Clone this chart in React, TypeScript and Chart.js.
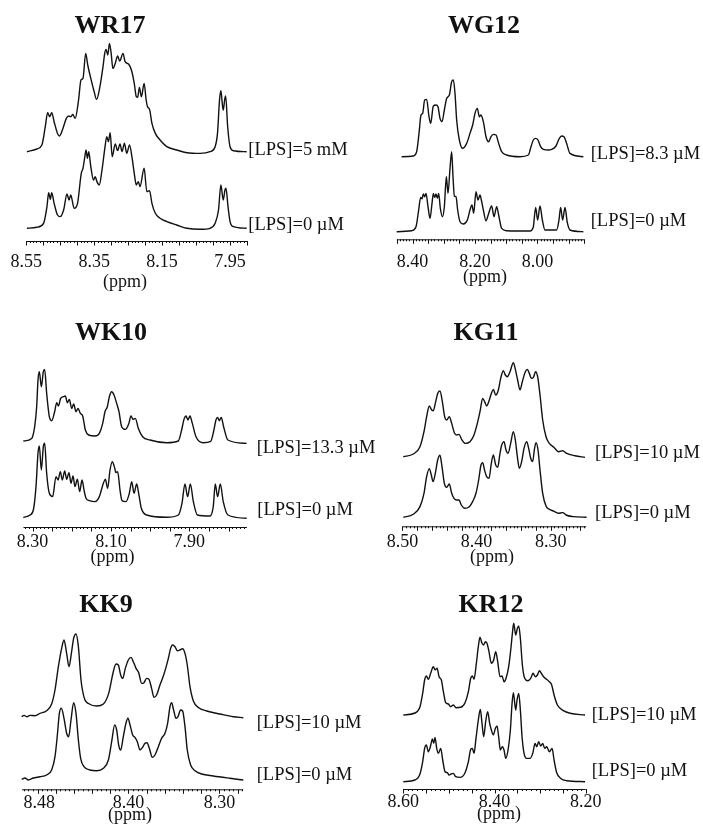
import React, { useEffect, useRef } from 'react';
import { Chart, registerables } from 'chart.js';

Chart.register(...registerables);

type Pt = [number, number]; // [chemical shift (ppm), intensity]

// ---------------- DATA ----------------
// WR17
const wr17Lps0: Pt[] = [
  [8.548, 0], [8.519, 1], [8.499, 5], [8.489, 21.7], [8.484, 35.7], [8.479, 29], [8.475, 35.7], [8.468, 25],
  [8.458, 13.3], [8.45, 11.7], [8.44, 18.3], [8.43, 34.3], [8.424, 28.3], [8.419, 33.3], [8.409, 20], [8.399, 25],
  [8.388, 55], [8.383, 60], [8.376, 75], [8.374, 78.3], [8.37, 70], [8.366, 76.7], [8.36, 61.7], [8.352, 48.3],
  [8.347, 51.7], [8.342, 46.7], [8.335, 43.3], [8.327, 58.3], [8.318, 81.7], [8.313, 91.7], [8.308, 86.7],
  [8.303, 95.7], [8.297, 71.7], [8.288, 84.3], [8.281, 77.7], [8.274, 84.3], [8.268, 76.7], [8.261, 85],
  [8.254, 75], [8.246, 83.3], [8.239, 71.7], [8.232, 55], [8.226, 43.3], [8.22, 46.7], [8.215, 41.7],
  [8.203, 60], [8.195, 36.7], [8.187, 37.7], [8.18, 25], [8.17, 15], [8.156, 10], [8.136, 6.7], [8.107, 3.3],
  [8.077, 0], [8.038, -1], [8.009, 0], [7.994, 5], [7.984, 18.3], [7.977, 43.3], [7.972, 31.7], [7.97, 28.3],
  [7.965, 38.3], [7.962, 40], [7.956, 21.7], [7.95, 6.7], [7.94, 1.7], [7.901, 0],
];
const wr17Lps5mM: Pt[] = [
  [8.548, 0], [8.519, 2.7], [8.504, 6.7], [8.494, 25], [8.487, 39], [8.481, 35], [8.475, 39], [8.468, 30],
  [8.458, 18.3], [8.452, 15.7], [8.442, 23.3], [8.432, 33.3], [8.425, 35.7], [8.419, 35], [8.413, 37.3],
  [8.406, 33.3], [8.396, 51.7], [8.389, 71.7], [8.383, 73.3], [8.375, 98.3], [8.369, 86.7], [8.36, 73.3],
  [8.35, 60], [8.343, 52.3], [8.334, 63.3], [8.324, 85], [8.319, 98.3], [8.315, 102.3], [8.31, 96.7],
  [8.305, 108.3], [8.3, 98.3], [8.295, 83.3], [8.288, 88.3], [8.281, 95.7], [8.275, 90.7], [8.265, 98.3],
  [8.259, 90], [8.249, 87.7], [8.239, 80], [8.232, 68.3], [8.226, 55], [8.222, 54.3], [8.217, 64.3],
  [8.211, 55], [8.203, 68.3], [8.197, 51.7], [8.193, 45], [8.187, 42.3], [8.18, 28.3], [8.17, 18.3],
  [8.156, 11.7], [8.136, 5], [8.107, 1.7], [8.077, -1], [8.038, -1.7], [8.009, 0], [7.994, 5], [7.987, 18.3],
  [7.981, 51.7], [7.977, 61], [7.972, 45], [7.97, 41.7], [7.966, 51.7], [7.963, 55.7], [7.957, 25],
  [7.95, 5], [7.94, 1], [7.901, 0],
];
const wr17TickAt = [8.55, 8.35, 8.15, 7.95];
const wr17TickLabels = ['8.55', '8.35', '8.15', '7.95'];
const wr17Conditions = ['[LPS]=5 mM', '[LPS]=0 µM'];

// WG12
const wg12Lps0: Pt[] = [
  [8.4507, 0], [8.4027, 1], [8.3888, 5], [8.3803, 21.7], [8.3739, 34.3], [8.3696, 33], [8.3653, 37.7],
  [8.3611, 35], [8.3568, 38.3], [8.3504, 25], [8.344, 13.3], [8.3376, 28.3], [8.3333, 38.3], [8.3291, 34.3],
  [8.3248, 37.7], [8.3205, 33.3], [8.3163, 38.3], [8.3109, 23.3], [8.3045, 15], [8.2981, 25], [8.2917, 55],
  [8.2864, 38.3], [8.28, 63.3], [8.2747, 80], [8.2704, 55], [8.2661, 35.7], [8.2608, 35], [8.2555, 21.7],
  [8.248, 10], [8.2373, 7.7], [8.2245, 11.7], [8.216, 21.7], [8.2096, 26.7], [8.2043, 18.3], [8.1968, 40],
  [8.1904, 31.7], [8.184, 36.7], [8.1797, 31.7], [8.1733, 21.7], [8.1648, 11], [8.1563, 18.3],
  [8.1467, 25.7], [8.1392, 15], [8.1307, 25], [8.1243, 16.7], [8.1147, 3.3], [8.0987, 1], [8.024, 0.7],
  [8.0133, 5], [8.0059, 24.3], [7.9995, 11.7], [7.992, 25.7], [7.9845, 11.7], [7.976, 1.7], [7.9387, 1.7],
  [7.9312, 11.7], [7.9259, 24.3], [7.9195, 11.7], [7.912, 24.3], [7.9045, 9], [7.896, 1.7], [7.8533, 0],
];
const wg12Lps83uM: Pt[] = [
  [8.4347, 0], [8.3973, 0.7], [8.3867, 5], [8.3792, 23.3], [8.3728, 41.7], [8.3675, 43.3], [8.3611, 56.7],
  [8.3547, 57.3], [8.3472, 40], [8.3419, 33.3], [8.3333, 50.7], [8.3248, 51.7], [8.3184, 50], [8.312, 38.3],
  [8.3056, 35], [8.2981, 46.7], [8.2907, 58.3], [8.2821, 61.7], [8.2747, 75], [8.2693, 76.7], [8.264, 63.3],
  [8.2587, 36.7], [8.2501, 16.7], [8.2395, 8.3], [8.2267, 13.3], [8.216, 23.3], [8.2075, 31.7], [8.2, 43.3],
  [8.1925, 48.3], [8.1861, 40], [8.1808, 41.7], [8.1733, 35], [8.1648, 20], [8.1563, 15], [8.1488, 20],
  [8.1413, 22.3], [8.1328, 21.7], [8.1243, 13.3], [8.1147, 5], [8.0987, 1.7], [8.056, 0], [8.0293, 1.7],
  [8.0208, 10], [8.0133, 16.7], [8.0059, 18.3], [7.9984, 16.7], [7.9899, 10], [7.9813, 7.3], [7.9653, 6.7],
  [7.9547, 7.3], [7.9408, 10.7], [7.9301, 18.3], [7.9227, 20.7], [7.9152, 20], [7.9067, 13.3], [7.896, 3.3],
  [7.8533, 0],
];
const wg12TickAt = [8.4, 8.2, 8.0];
const wg12TickLabels = ['8.40', '8.20', '8.00'];
const wg12Conditions = ['[LPS]=8.3 µM', '[LPS]=0 µM'];

// WK10
const wk10Lps0: Pt[] = [
  [8.3234, 0.7], [8.3064, 3.3], [8.2979, 8.3], [8.2911, 31.7], [8.286, 65], [8.2826, 72.3], [8.2775, 48.3],
  [8.2724, 71.7], [8.269, 75], [8.2639, 45], [8.2571, 25], [8.2486, 21.7], [8.2401, 41.7], [8.2349, 38.3],
  [8.229, 46.7], [8.2239, 38.3], [8.2179, 47.3], [8.2128, 39], [8.2069, 45.7], [8.2018, 35], [8.1967, 42.3],
  [8.1916, 31.7], [8.1856, 39], [8.1797, 26.7], [8.1737, 38.3], [8.1686, 28.3], [8.1635, 20], [8.155, 17.7],
  [8.1406, 16.7], [8.1295, 21.7], [8.1193, 35], [8.1142, 39], [8.1083, 30], [8.1023, 48.3], [8.0964, 56.7],
  [8.0913, 51.7], [8.087, 45.7], [8.0828, 46.7], [8.0768, 28.3], [8.0717, 17.7], [8.0615, 16.7], [8.053, 25],
  [8.047, 36.7], [8.0411, 25], [8.0343, 34.3], [8.0292, 25], [8.0224, 10], [8.0088, 3.3], [7.9578, 1],
  [7.9281, 3.3], [7.9187, 15], [7.9111, 34.3], [7.9043, 21.7], [7.8974, 34.3], [7.8897, 16.7], [7.8795, 3.3],
  [7.8474, 2.3], [7.8389, 11.7], [7.8338, 34.3], [7.8278, 21.7], [7.821, 34.3], [7.8134, 16.7], [7.8015, 3.3],
  [7.7538, 0],
];
const wk10Lps133uM: Pt[] = [
  [8.3234, 0.7], [8.3021, 3.3], [8.2945, 15], [8.2894, 35], [8.286, 61.7], [8.2826, 70], [8.2775, 55],
  [8.2724, 70], [8.269, 72.3], [8.2639, 48.3], [8.2571, 25], [8.2511, 21], [8.2435, 30], [8.2384, 39],
  [8.2341, 35.7], [8.2282, 43.3], [8.2213, 45], [8.2162, 45.7], [8.2111, 39], [8.206, 42.3], [8.2001, 33.3],
  [8.195, 37.7], [8.189, 30], [8.1839, 33.3], [8.178, 28.3], [8.172, 25.7], [8.1652, 11.7], [8.1567, 6.7],
  [8.1406, 5.7], [8.1295, 8.3], [8.121, 18.3], [8.1151, 30], [8.1091, 35], [8.104, 45], [8.0981, 50],
  [8.0921, 46.7], [8.0853, 38.3], [8.0794, 30], [8.0726, 15], [8.0632, 12.3], [8.0547, 17.7], [8.0487, 25.7],
  [8.0436, 22.3], [8.0377, 23.3], [8.03, 13.3], [8.019, 5], [8.0003, 1.7], [7.9578, -1], [7.9281, 0.7],
  [7.9196, 11.7], [7.9136, 22.3], [7.9085, 25.7], [7.9034, 21.7], [7.8983, 25.7], [7.8923, 18.3], [7.883, 5],
  [7.8643, -1], [7.8456, 0.3], [7.8372, 11.7], [7.8321, 21.7], [7.8278, 24.3], [7.8236, 21], [7.8185, 24.3],
  [7.8125, 15], [7.8015, 1.7], [7.7538, -1.7],
];
const wk10TickAt = [8.3, 8.1, 7.9];
const wk10TickLabels = ['8.30', '8.10', '7.90'];
const wk10Conditions = ['[LPS]=13.3 µM', '[LPS]=0 µM'];

// KG11
const kg11Lps0: Pt[] = [
  [8.4989, 0], [8.4854, 3], [8.4764, 10.7], [8.471, 24], [8.4674, 40.7], [8.4638, 48.7], [8.4611, 42.3],
  [8.4588, 35.7], [8.4557, 44], [8.4525, 57.3], [8.4494, 62], [8.4467, 50.7], [8.4435, 34], [8.4404, 30],
  [8.4368, 33.3], [8.4336, 24], [8.4305, 19], [8.4269, 17.3], [8.4237, 17.3], [8.4206, 12.3], [8.4161, 9],
  [8.4107, 10], [8.4053, 15.7], [8.4008, 24], [8.3972, 37.3], [8.3941, 52.3], [8.3918, 54.7], [8.3891, 46.7],
  [8.3864, 40.7], [8.3832, 39], [8.3801, 54], [8.3774, 62.3], [8.3742, 52.3], [8.3715, 50], [8.3684, 64],
  [8.3661, 72.3], [8.363, 75.7], [8.3603, 67.3], [8.3576, 64], [8.354, 74], [8.3504, 85.7], [8.3477, 77.3],
  [8.345, 60.7], [8.3423, 49], [8.3392, 55.7], [8.336, 69], [8.3324, 75.7], [8.3297, 69], [8.327, 59],
  [8.3243, 55.7], [8.3221, 67.3], [8.3198, 74.7], [8.3171, 67.3], [8.3144, 47.3], [8.3108, 24], [8.3063, 11.3],
  [8.3018, 8], [8.2964, 6.3], [8.2897, 4], [8.2838, 4.7], [8.2793, 2.3], [8.2695, 0.7], [8.2515, 0],
];
const kg11Lps10uM: Pt[] = [
  [8.4989, 0], [8.4854, 2.7], [8.4764, 10], [8.471, 25], [8.4674, 40], [8.4638, 50.7], [8.4606, 46.7],
  [8.4584, 46], [8.4552, 55], [8.4525, 63.3], [8.4494, 65.7], [8.4462, 55], [8.4431, 40], [8.4404, 36.7],
  [8.4368, 40], [8.4336, 33.3], [8.43, 24], [8.4269, 21.7], [8.4237, 22.3], [8.4202, 17.3], [8.4152, 13.3],
  [8.4089, 15], [8.4035, 21.7], [8.399, 33.3], [8.3954, 45], [8.3918, 58.3], [8.3891, 55], [8.3864, 50.7],
  [8.3828, 56.7], [8.3801, 63.3], [8.3774, 67.3], [8.3742, 61.7], [8.3706, 66.7], [8.3675, 78.3], [8.3639, 86],
  [8.3612, 81.7], [8.3585, 80], [8.3549, 85], [8.3504, 94], [8.3477, 87.3], [8.3446, 76.7], [8.3414, 66.7],
  [8.3383, 75], [8.3347, 84], [8.3315, 87.3], [8.3288, 83.3], [8.3261, 78.3], [8.3234, 79.3], [8.3203, 85],
  [8.3176, 80], [8.3144, 61.7], [8.3108, 36.7], [8.3063, 20], [8.3018, 13.3], [8.2955, 9.3], [8.2892, 5],
  [8.2838, 6], [8.2784, 3.3], [8.2672, 1], [8.2537, -0.7],
];
const kg11TickAt = [8.5, 8.4, 8.3];
const kg11TickLabels = ['8.50', '8.40', '8.30'];
const kg11Conditions = ['[LPS]=10 µM', '[LPS]=0 µM'];

// KK9
const kk9Lps0: Pt[] = [
  [8.5174, 0.7], [8.5138, 2], [8.5101, 0], [8.5046, 2], [8.4973, 3.3], [8.49, 5], [8.4845, 10], [8.4808, 23.3],
  [8.4782, 45], [8.476, 66.7], [8.4738, 71.7], [8.4709, 61.7], [8.468, 46.7], [8.4658, 43.3], [8.4632, 60],
  [8.4603, 77.3], [8.4577, 66.7], [8.4551, 40], [8.4526, 21.7], [8.4489, 13.3], [8.4423, 10], [8.435, 9.3],
  [8.4276, 11.7], [8.4221, 20], [8.4185, 38.3], [8.4152, 55], [8.413, 50], [8.4108, 35], [8.4086, 30],
  [8.4057, 43.3], [8.4028, 56.7], [8.4006, 61.7], [8.3983, 55], [8.3954, 45], [8.3929, 42.7], [8.3903, 38.3],
  [8.3874, 30], [8.3845, 32.7], [8.3819, 36.7], [8.3797, 37.3], [8.3771, 31.7], [8.3738, 22.7], [8.3709, 25],
  [8.3672, 33.3], [8.3636, 41.7], [8.3599, 46.7], [8.357, 56.7], [8.3544, 73.3], [8.3526, 77.3], [8.3504, 70],
  [8.3478, 61.7], [8.3456, 63.3], [8.3427, 70], [8.3405, 69], [8.3379, 53.3], [8.3354, 30], [8.3317, 15],
  [8.3269, 9.3], [8.3196, 6], [8.3068, 4], [8.2885, 1.7], [8.2738, 0],
];
const kk9Lps10uM: Pt[] = [
  [8.5174, 0], [8.5148, 1.3], [8.5119, 0], [8.5083, 1.3], [8.5028, 1], [8.4973, 3.3], [8.49, 6], [8.4845, 12.7],
  [8.4808, 26.7], [8.4771, 50], [8.4735, 68.3], [8.4709, 76.7], [8.468, 63.3], [8.4654, 50], [8.4628, 63.3],
  [8.4603, 78.3], [8.4577, 82.7], [8.4551, 70], [8.4522, 36.7], [8.4485, 18.3], [8.443, 12.7], [8.435, 10.7],
  [8.4276, 12.7], [8.4218, 23.3], [8.4167, 45], [8.4137, 52.7], [8.4112, 51.7], [8.4086, 41.7], [8.4064, 38.3],
  [8.4035, 48.3], [8.4002, 56.7], [8.3972, 59.3], [8.3947, 55], [8.3917, 48.3], [8.3888, 44], [8.3855, 33.3],
  [8.383, 34], [8.3801, 38.3], [8.3775, 37.3], [8.3746, 28.3], [8.372, 19.3], [8.3691, 21.7], [8.3654, 31.7],
  [8.3617, 40.7], [8.3588, 49.3], [8.3562, 58.3], [8.3537, 68.3], [8.3515, 71.7], [8.3489, 70], [8.3464, 66],
  [8.3435, 66.7], [8.3405, 68], [8.3379, 63.3], [8.3354, 51.7], [8.3324, 30], [8.3288, 16], [8.3233, 9.3],
  [8.3141, 5.7], [8.2995, 2.7], [8.2848, 0], [8.2738, -1],
];
const kk9TickAt = [8.498, 8.4, 8.3];
const kk9TickLabels = ['8.48', '8.40', '8.30'];
const kk9Conditions = ['[LPS]=10 µM', '[LPS]=0 µM'];

// KR12
const kr12Lps0: Pt[] = [
  [8.6, 0], [8.5744, 1.7], [8.5634, 7.7], [8.5575, 20], [8.5532, 33.3], [8.5494, 36.7], [8.5451, 30],
  [8.5406, 35], [8.5362, 42.7], [8.5333, 38.3], [8.5304, 44.3], [8.5267, 33.3], [8.5231, 28.3], [8.518, 33.3],
  [8.5136, 21.7], [8.5085, 10], [8.5034, 9], [8.4997, 6.7], [8.4953, 7.7], [8.4902, 8.3], [8.4851, 5],
  [8.4756, 4.3], [8.4646, 9], [8.4573, 20], [8.4522, 32.3], [8.4485, 33.3], [8.4449, 28.3], [8.4406, 43.3],
  [8.4355, 61.7], [8.4311, 72.3], [8.4274, 58.3], [8.4238, 45], [8.4194, 60], [8.415, 70], [8.4106, 58.3],
  [8.4069, 51.7], [8.4026, 46.7], [8.3982, 53.3], [8.3945, 55.7], [8.3909, 45], [8.3872, 31.7], [8.3828, 35],
  [8.3791, 31.7], [8.3755, 23.3], [8.3703, 31.7], [8.3652, 51.7], [8.3615, 78.3], [8.3586, 89], [8.3535, 71.7],
  [8.3506, 81.7], [8.3469, 88.3], [8.3433, 71.7], [8.3396, 45], [8.3352, 28.3], [8.3294, 23.3], [8.3221, 23.3],
  [8.3162, 28.3], [8.3111, 38.3], [8.3075, 35], [8.3031, 40], [8.2987, 35.7], [8.2943, 38.3], [8.2899, 33.3],
  [8.2855, 35], [8.2797, 30], [8.2738, 33.3], [8.2694, 21.7], [8.2636, 9], [8.2548, 3.3], [8.2416, 1],
  [8.2014, 0],
];
const kr12Lps10uM: Pt[] = [
  [8.6, 0], [8.5744, 2], [8.5634, 8.3], [8.5575, 21.7], [8.5532, 35], [8.5494, 39], [8.5451, 35.7], [8.54, 41.7],
  [8.5341, 48.3], [8.5304, 45], [8.526, 46.7], [8.5216, 38.3], [8.5165, 35], [8.5121, 23.3], [8.507, 12.3],
  [8.5012, 11], [8.4961, 8.3], [8.4902, 10], [8.4843, 7.3], [8.4741, 7.7], [8.4646, 12.3], [8.4573, 23.3],
  [8.4522, 36.7], [8.4485, 39], [8.4449, 35.7], [8.4398, 51.7], [8.4355, 68.3], [8.4318, 77.7], [8.4274, 71.7],
  [8.4238, 70], [8.4201, 73.3], [8.4165, 71.7], [8.4121, 63.3], [8.4069, 51.7], [8.4018, 55], [8.3974, 63.3],
  [8.393, 53.3], [8.3879, 38.3], [8.3835, 39], [8.3791, 33.3], [8.3747, 36.7], [8.3689, 48.3], [8.3637, 68.3],
  [8.3608, 81.7], [8.3579, 91.7], [8.3535, 80], [8.3498, 86.7], [8.3469, 89], [8.3433, 76.7], [8.3389, 50],
  [8.3338, 36.7], [8.3272, 34.3], [8.3206, 36.7], [8.3155, 41.7], [8.3104, 38.3], [8.306, 40], [8.3016, 44.3],
  [8.2965, 41], [8.2914, 37.7], [8.2855, 35.7], [8.2797, 33.3], [8.2746, 30], [8.2694, 20], [8.2621, 10],
  [8.2489, 4.3], [8.2343, 1.7], [8.2014, 0],
];
const kr12TickAt = [8.6, 8.4, 8.2];
const kr12TickLabels = ['8.60', '8.40', '8.20'];
const kr12Conditions = ['[LPS]=10 µM', '[LPS]=0 µM'];

const panelTitles = ['WR17', 'WG12', 'WK10', 'KG11', 'KK9', 'KR12'];

// ---------------- LAYOUT (page px) ----------------
interface Layout {
  left: number; top: number; width: number;
  chartLeft: number; chartRight: number; chartTop: number; axisY: number;
  ppmLeft: number; ppmRight: number;
  axisFrom: number; axisTo: number; minor: number; major: number;
  tickPad: number; titlePad: number;
  titleX: number; titleY: number;
  labelX: number[]; labelY: number[];
  offsets: number[]; // baseline heights above axis: [top trace, bottom trace]
}

const layouts: Layout[] = [
  { left: 0, top: 0, width: 400, chartLeft: 3.2, chartRight: 246.7, chartTop: 36, axisY: 241,
    ppmLeft: 8.617, ppmRight: 7.901, axisFrom: 8.55, axisTo: 7.9, minor: 0.01, major: 0.05,
    tickPad: 10.2, titlePad: -11.6, titleX: 110, titleY: 33,
    labelX: [248.3, 248.3], labelY: [150.8, 225.8], offsets: [89.3, 12.7] },
  { left: 352, top: 0, width: 351, chartLeft: 386.7, chartRight: 583.3, chartTop: 36, axisY: 239.3,
    ppmLeft: 8.4826, ppmRight: 7.8534, axisFrom: 8.45, axisTo: 7.85, minor: 0.01, major: 0.05,
    tickPad: 11.9, titlePad: -17.8, titleX: 484, titleY: 33,
    labelX: [590.7, 590.7], labelY: [155, 221.7], offsets: [82.6, 7.6] },
  { left: -30, top: 290, width: 420, chartLeft: -21.7, chartRight: 246.7, chartTop: 345, axisY: 527,
    ppmLeft: 8.4383, ppmRight: 7.7536, axisFrom: 8.323, axisTo: 7.753, minor: 0.01, major: 0.05,
    tickPad: 4.2, titlePad: -10.8, titleX: 111, titleY: 340,
    labelX: [256.7, 257.3], labelY: [449.2, 510.8], offsets: [85.3, 8.7] },
  { left: 352, top: 290, width: 351, chartLeft: 397.3, chartRight: 586.7, chartTop: 345, axisY: 526.3,
    ppmLeft: 8.507, ppmRight: 8.2514, axisFrom: 8.5, axisTo: 8.252, minor: 0.005, major: 0.02,
    tickPad: 4.9, titlePad: -11.5, titleX: 486, titleY: 340,
    labelX: [595, 595], labelY: [454.2, 514.2], offsets: [69.6, 9] },
  { left: 0, top: 565, width: 400, chartLeft: 16.7, chartRight: 243.3, chartTop: 615, axisY: 789.3,
    ppmLeft: 8.5229, ppmRight: 8.2738, axisFrom: 8.517, axisTo: 8.274, minor: 0.005, major: 0.02,
    tickPad: 3.6, titlePad: -13.4, titleX: 106, titleY: 612,
    labelX: [256.7, 256.7], labelY: [724.2, 775.8], offsets: [72.6, 9.3] },
  { left: 352, top: 565, width: 351, chartLeft: 403.3, chartRight: 594.7, chartTop: 615, axisY: 789,
    ppmLeft: 8.6, ppmRight: 8.1803, axisFrom: 8.6, axisTo: 8.2, minor: 0.01, major: 0.05,
    tickPad: 2.9, titlePad: -13.2, titleX: 491, titleY: 612,
    labelX: [591.7, 591.7], labelY: [715.8, 772.5], offsets: [74, 7.3] },
];

interface PanelData {
  title: string;
  traces: Pt[][]; // [top trace, bottom trace]
  conditions: string[];
  tickAt: number[];
  tickLabels: string[];
}

const panels: PanelData[] = [
  { title: panelTitles[0], traces: [wr17Lps5mM, wr17Lps0], conditions: wr17Conditions, tickAt: wr17TickAt, tickLabels: wr17TickLabels },
  { title: panelTitles[1], traces: [wg12Lps83uM, wg12Lps0], conditions: wg12Conditions, tickAt: wg12TickAt, tickLabels: wg12TickLabels },
  { title: panelTitles[2], traces: [wk10Lps133uM, wk10Lps0], conditions: wk10Conditions, tickAt: wk10TickAt, tickLabels: wk10TickLabels },
  { title: panelTitles[3], traces: [kg11Lps10uM, kg11Lps0], conditions: kg11Conditions, tickAt: kg11TickAt, tickLabels: kg11TickLabels },
  { title: panelTitles[4], traces: [kk9Lps10uM, kk9Lps0], conditions: kk9Conditions, tickAt: kk9TickAt, tickLabels: kk9TickLabels },
  { title: panelTitles[5], traces: [kr12Lps10uM, kr12Lps0], conditions: kr12Conditions, tickAt: kr12TickAt, tickLabels: kr12TickLabels },
];

const SERIF = "'Liberation Serif', 'Times New Roman', Times, serif";
const INK = '#111111';
const LINE_H = 18 * 1.2;

function canvasHeight(L: Layout) {
  const scaleH = 2 * LINE_H + 2 * L.tickPad + L.titlePad;
  return Math.ceil(L.axisY - L.top + scaleH);
}

function Panel({ data, L }: { data: PanelData; L: Layout }) {
  const ref = useRef<HTMLCanvasElement | null>(null);
  const H = canvasHeight(L);

  useEffect(() => {
    const canvas = ref.current;
    if (!canvas) return;
    const scaleH = 2 * LINE_H + 2 * L.tickPad + L.titlePad;
    const axisLocal = L.axisY - L.top;
    const padBottom = H - (axisLocal + scaleH);
    const yMax = L.axisY - L.chartTop;

    const decor = {
      id: 'nmrDecor',
      afterDraw(chart: any) {
        const ctx = chart.ctx as CanvasRenderingContext2D;
        const xs = chart.scales.x;
        const y0 = chart.chartArea.bottom;
        ctx.save();
        ctx.strokeStyle = INK;
        ctx.lineWidth = 1;
        // axis line
        ctx.beginPath();
        ctx.moveTo(xs.getPixelForValue(L.axisFrom), y0 + 0.5);
        ctx.lineTo(xs.getPixelForValue(L.axisTo), y0 + 0.5);
        ctx.stroke();
        // tick marks
        const U = 1000;
        const fromI = Math.round(L.axisFrom * U);
        const toI = Math.round(L.axisTo * U);
        const mi = Math.round(L.minor * U);
        const ma = Math.round(L.major * U);
        ctx.beginPath();
        for (let v = Math.ceil(toI / mi) * mi; v <= fromI; v += mi) {
          const px = Math.round(xs.getPixelForValue(v / U)) + 0.5;
          const len = v % ma === 0 ? 4.5 : 2;
          ctx.moveTo(px, y0);
          ctx.lineTo(px, y0 + len);
        }
        ctx.stroke();
        // panel title
        ctx.fillStyle = INK;
        ctx.font = `bold 26px ${SERIF}`;
        ctx.textAlign = 'center';
        ctx.textBaseline = 'alphabetic';
        ctx.fillText(data.title, L.titleX - L.left, L.titleY - L.top);
        // condition labels
        ctx.font = `18.5px ${SERIF}`;
        ctx.textAlign = 'left';
        ctx.textBaseline = 'middle';
        data.conditions.forEach((t, i) => {
          ctx.fillText(t, L.labelX[i] - L.left, L.labelY[i] - L.top - 1);
        });
        ctx.restore();
      },
    };

    const chart = new Chart(canvas, {
      type: 'line',
      data: {
        datasets: data.traces.map((tr, i) => ({
          data: tr.map(([x, v]) => ({ x, y: v + L.offsets[i] })),
          borderColor: INK,
          borderWidth: 1.4,
          pointRadius: 0,
          fill: false,
          cubicInterpolationMode: 'monotone' as const,
          clip: false as any,
        })),
      },
      options: {
        responsive: false,
        maintainAspectRatio: false,
        devicePixelRatio: 1,
        animation: false,
        events: [],
        layout: {
          padding: {
            left: L.chartLeft - L.left,
            right: L.left + L.width - L.chartRight,
            top: L.chartTop - L.top,
            bottom: padBottom,
          },
        },
        plugins: { legend: { display: false }, tooltip: { enabled: false }, title: { display: false } },
        scales: {
          x: {
            type: 'linear',
            reverse: true,
            min: L.ppmRight,
            max: L.ppmLeft,
            afterBuildTicks: (axis: any) => {
              axis.ticks = data.tickAt.map((v) => ({ value: v }));
            },
            ticks: {
              autoSkip: false,
              maxRotation: 0,
              minRotation: 0,
              padding: L.tickPad,
              color: INK,
              font: { family: SERIF, size: 18, lineHeight: 1.2 },
              callback: (_v: any, i: number) => data.tickLabels[i],
            },
            grid: { display: false, drawTicks: false, tickLength: 0 },
            border: { display: false },
            title: {
              display: true,
              text: '(ppm)',
              color: INK,
              font: { family: SERIF, size: 18, lineHeight: 1.2 },
              padding: { top: L.titlePad, bottom: 0 },
            },
          },
          y: { type: 'linear', display: false, min: 0, max: yMax },
        },
      },
      plugins: [decor],
    } as any);
    return () => chart.destroy();
  }, [data, L, H]);

  return (
    <canvas
      ref={ref}
      width={L.width}
      height={H}
      style={{ position: 'absolute', left: L.left, top: L.top, width: L.width, height: H }}
    />
  );
}

export default function App() {
  return (
    <div style={{ position: 'absolute', left: 0, top: 0, width: 703, height: 828, overflow: 'hidden', background: '#ffffff' }}>
      {panels.map((p, i) => (
        <Panel key={p.title} data={p} L={layouts[i]} />
      ))}
    </div>
  );
}
